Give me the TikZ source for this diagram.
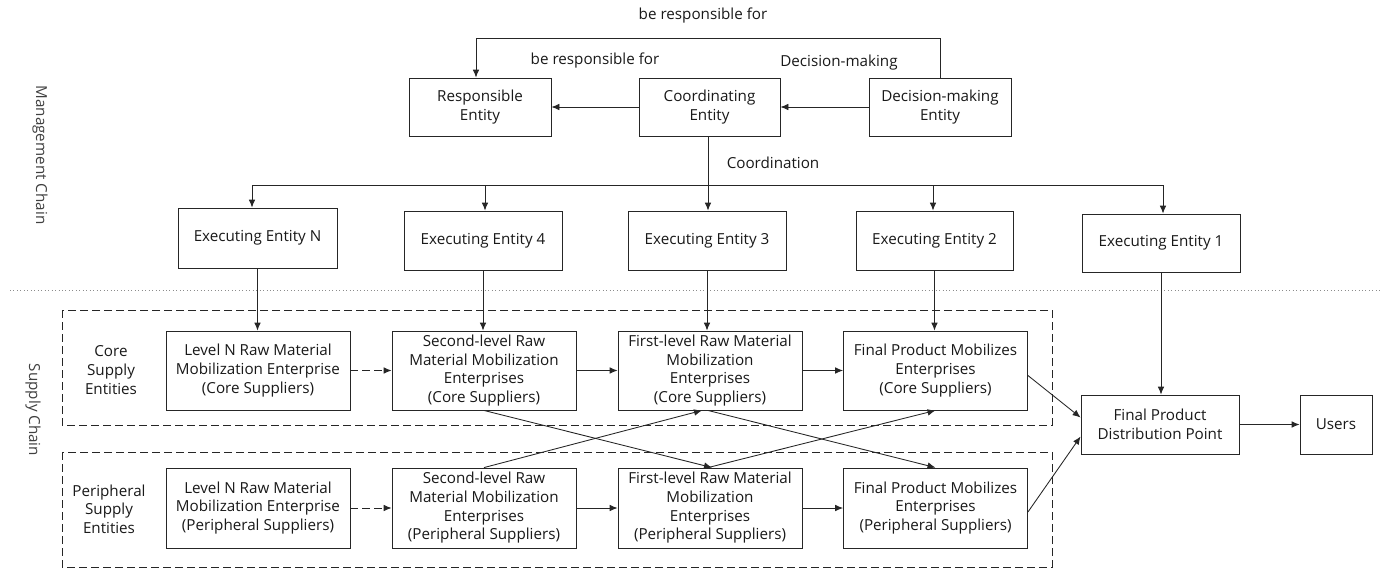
\documentclass[tikz,border=0pt]{standalone}
\usepackage{fontspec}
\setmainfont{Open Sans}
\usetikzlibrary{arrows.meta,calc}
\begin{document}
\begin{tikzpicture}[x=0.75pt,y=-0.75pt,
  font=\fontsize{11.4}{14}\selectfont,
  every node/.style={text=black!90},
  box/.style={draw=black!85,line width=0.65pt,align=center,inner sep=1pt,fill=white},
  arr/.style={draw=black!85,line width=0.65pt,-{Latex[length=6pt,width=5pt]}},
  ln/.style={draw=black!85,line width=0.65pt},
  dsh/.style={dash pattern=on 6pt off 3pt},
  dbox/.style={draw=black!85,line width=0.65pt,dsh}]
\useasboundingbox (0,0) rectangle (1391,569);
% management chain
\node[box,minimum width=106.5pt,minimum height=43.5pt] (resp) at (480,107) {Responsible\\Entity};
\node[box,minimum width=105.75pt,minimum height=43.5pt] (coord) at (709.5,107) {Coordinating\\Entity};
\node[box,minimum width=106.5pt,minimum height=43.5pt] (dec) at (940,107) {Decision-making\\Entity};
\coordinate (tr) at (940,38);
\coordinate (tl) at (476,38);
\draw[arr] (dec.north) -- (tr) -- (tl) -- (tl |- resp.north);
\draw[arr] (coord.west) -- (resp.east);
\draw[arr] (dec.west) -- (coord.east);
\node (l1) at (703,16) {be responsible for};
\node (l2) at (595,61) {be responsible for};
\node (l3) at (839,63) {Decision-making};
\node (l4) at (773,163) {Coordination};
\node[box,minimum width=119.25pt,minimum height=45pt] (exN) at (257.5,238) {Executing Entity N};
\node[box,minimum width=118.5pt,minimum height=44.25pt] (ex4) at (483,240.5) {Executing Entity 4};
\node[box,minimum width=118.5pt,minimum height=44.25pt] (ex3) at (707,240.5) {Executing Entity 3};
\node[box,minimum width=117.75pt,minimum height=44.25pt] (ex2) at (934.5,240.5) {Executing Entity 2};
\node[box,minimum width=118.5pt,minimum height=43.5pt] (ex1) at (1161,243) {Executing Entity 1};
\coordinate (bus) at (708,185);
\draw[ln] (coord.south -| bus) -- (bus);
\draw[arr] (bus) -- (bus |- ex3.north);
\draw[arr] (bus) -| (252,0 |- exN.north);
\draw[arr] (bus) -| (485,0 |- ex4.north);
\draw[arr] (bus) -| (933,0 |- ex2.north);
\draw[arr] (bus) -| (1163,0 |- ex1.north);
% separator and side labels
\draw[black!45,line width=0.6pt,dotted] (10,290) -- (1380,290);
\node[rotate=-90,text=black!75] (mc) at (40,155) {Management Chain};
\node[rotate=-90,text=black!75] (sc) at (33,410) {Supply Chain};
% supply chain
\draw[dbox] (62,310) rectangle (1052,425);
\draw[dbox] (62,452) rectangle (1052,567);
\node[align=center] (coreL) at (111,370) {Core\\Supply\\Entities};
\node[align=center] (periL) at (109,509) {Peripheral\\Supply\\Entities};
\tikzset{sbox/.style={box,minimum width=138pt,minimum height=59.25pt}}
\node[sbox] (cN) at (258,370.5) {Level N Raw Material\\Mobilization Enterprise\\(Core Suppliers)};
\node[sbox] (c2) at (484,370.5) {Second-level Raw\\Material Mobilization\\Enterprises\\(Core Suppliers)};
\node[sbox] (c1) at (710,370.5) {First-level Raw Material\\Mobilization\\Enterprises\\(Core Suppliers)};
\node[sbox] (cF) at (935.5,370.5) {Final Product Mobilizes\\Enterprises\\(Core Suppliers)};
\node[sbox,minimum height=60pt] (pN) at (258,508) {Level N Raw Material\\Mobilization Enterprise\\(Peripheral Suppliers)};
\node[sbox,minimum height=60pt] (p2) at (484,508) {Second-level Raw\\Material Mobilization\\Enterprises\\(Peripheral Suppliers)};
\node[sbox,minimum height=60pt] (p1) at (710,508) {First-level Raw Material\\Mobilization\\Enterprises\\(Peripheral Suppliers)};
\node[sbox,minimum height=60pt] (pF) at (935.5,508) {Final Product Mobilizes\\Enterprises\\(Peripheral Suppliers)};
\node[box,minimum width=118.5pt,minimum height=44.25pt] (dist) at (1160,424.5) {Final Product\\Distribution Point};
\node[box,minimum width=54pt,minimum height=44.25pt] (users) at (1336,424.5) {Users};
% exec to supply
\draw[arr] (exN.south) -- (exN.south |- cN.north);
\draw[arr] (ex4.south) -- (ex4.south |- c2.north);
\draw[arr] (ex3.south) -- (ex3.south |- c1.north);
\draw[arr] (ex2.south) -- (ex2.south |- cF.north);
\draw[arr] (ex1.south) -- (ex1.south |- dist.north);
% horizontal flows
\draw[arr,dsh] (cN.east) -- (c2.west);
\draw[arr] (c2.east) -- (c1.west);
\draw[arr] (c1.east) -- (cF.west);
\draw[arr,dsh] (pN.east) -- (p2.west);
\draw[arr] (p2.east) -- (p1.west);
\draw[arr] (p1.east) -- (pF.west);
% crossings
\draw[arr] (c2.south) -- ($(p1.north)+(2,0)$);
\draw[arr] (p2.north) -- ($(c1.south)+(-8,0)$);
\draw[arr] ($(c1.south)+(-2,0)$) -- (pF.north);
\draw[arr] ($(p1.north)+(-2,0)$) -- (cF.south);
% to distribution
\draw[arr] ($(cF.east)+(0,5)$) -- ($(dist.west)+(0,-7)$);
\draw[arr] ($(pF.east)+(0,4)$) -- ($(dist.west)+(0,12)$);
\draw[arr] (dist.east) -- (users.west);
\end{tikzpicture}
\end{document}
